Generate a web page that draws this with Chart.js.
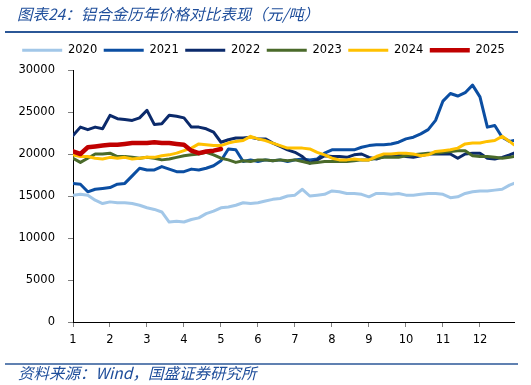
<!DOCTYPE html>
<html>
<head>
<meta charset="utf-8">
<script src="https://cdn.jsdelivr.net/npm/chart.js@4.4.1/dist/chart.umd.min.js"></script>
<style>
    html, body { margin: 0; padding: 0; background: #fff; }
</style>
</head>
<body>
<canvas id="priceChart" width="531" height="385"></canvas>
<script>
// x position of each point, in months (1 = start of Jan)
var months = [1.0, 1.2, 1.4, 1.6, 1.8, 2.0, 2.2, 2.4, 2.6, 2.8,
    3.0, 3.2, 3.4, 3.6, 3.8, 4.0, 4.2, 4.4, 4.6, 4.8,
    5.0, 5.2, 5.4, 5.6, 5.8, 6.0, 6.2, 6.4, 6.6, 6.8,
    7.0, 7.2, 7.4, 7.6, 7.8, 8.0, 8.2, 8.4, 8.6, 8.8,
    9.0, 9.2, 9.4, 9.6, 9.8, 10.0, 10.2, 10.4, 10.6, 10.8,
    11.0, 11.2, 11.4, 11.6, 11.8, 12.0, 12.2, 12.4, 12.6, 12.8, 12.92];

// prices, yuan per tonne
var price2020 = [15100, 15200, 15100, 14500, 14100, 14300, 14200, 14200, 14100, 13900,
    13600, 13400, 13100, 11900, 12000, 11900, 12200, 12400, 12900, 13200,
    13600, 13700, 13900, 14200, 14100, 14200, 14400, 14600, 14700, 15000,
    15100, 15800, 15000, 15100, 15200, 15600, 15500, 15300, 15300, 15200,
    14900, 15300, 15300, 15200, 15300, 15100, 15100, 15200, 15300, 15300,
    15200, 14800, 14900, 15300, 15500, 15600, 15600, 15700, 15800, 16300, 16500];
var price2021 = [16500, 16400, 15500, 15800, 15900, 16000, 16400, 16500, 17400, 18300,
    18100, 18100, 18500, 18200, 17900, 17900, 18200, 18100, 18300, 18600,
    19200, 20600, 20500, 19100, 19300, 19100, 19300, 19200, 19300, 19100,
    19300, 19400, 19300, 19400, 20100, 20500, 20500, 20500, 20500, 20800,
    21000, 21100, 21100, 21200, 21400, 21800, 22000, 22400, 22900, 24000,
    26300, 27200, 26900, 27300, 28200, 26800, 23200, 23400, 22000, 21500, 21600];
var price2022 = [22200, 23200, 22900, 23200, 23000, 24600, 24200, 24100, 24000, 24300,
    25200, 23500, 23600, 24600, 24500, 24300, 23200, 23200, 23000, 22600,
    21400, 21700, 21900, 21900, 22000, 21800, 21800, 21300, 20900, 20500,
    20200, 19700, 18900, 19300, 19800, 19700, 19700, 19600, 19900, 20000,
    19600, 19400, 19700, 19800, 19900, 19700, 19600, 19800, 20000, 20000,
    20000, 20000, 19500, 20000, 20100, 20100, 19500, 19400, 19600, 19900, 20100];
var price2023 = [19500, 19000, 19500, 20000, 20000, 20100, 19700, 19700, 19600, 19500,
    19600, 19500, 19300, 19400, 19600, 19800, 19900, 20000, 20200, 19900,
    19500, 19300, 19000, 19200, 19100, 19300, 19300, 19200, 19300, 19200,
    19300, 19100, 18900, 19000, 19100, 19100, 19100, 19100, 19200, 19300,
    19300, 19500, 19600, 19600, 19600, 19800, 19900, 20000, 20100, 20100,
    20200, 20300, 20400, 20400, 19800, 19700, 19700, 19600, 19500, 19600, 19700];
var price2024 = [19900, 19700, 19700, 19500, 19400, 19600, 19500, 19600, 19400, 19500,
    19600, 19600, 19800, 19900, 20100, 20400, 20700, 21200, 21100, 21000,
    21000, 21300, 21500, 21600, 22100, 21800, 21600, 21300, 21000, 20700,
    20700, 20700, 20600, 20200, 19900, 19500, 19300, 19300, 19400, 19300,
    19300, 19700, 20000, 20000, 20100, 20100, 20000, 19800, 19900, 20300,
    20400, 20500, 20700, 21200, 21300, 21300, 21500, 21600, 22100, 21500, 21100];
var price2025 = [20300, 20000, 20800, 20900, 21000, 21100, 21100, 21200, 21300, 21300,
    21300, 21400, 21300, 21300, 21200, 21100, 20400, 20100, 20300, 20400, 20600];

var yearLabels = ['2020', '2021', '2022', '2023', '2024', '2025'];
var monthTicks = [1, 2, 3, 4, 5, 6, 7, 8, 9, 10, 11, 12];

var titleText = '图表24：铝合金历年价格对比表现（元/吨）';
var sourceText = '资料来源：Wind，国盛证券研究所';

function toPoints(values) {
    return values.map((v, i) => ({ x: months[i], y: v }));
}

function makeLine(label, values, color, width, order) {
    return {
        label: label,
        data: toPoints(values),
        borderColor: color,
        backgroundColor: color,
        borderWidth: width,
        borderCapStyle: 'round',
        borderJoinStyle: 'round',
        pointRadius: 0,
        tension: 0,
        order: order
    };
}

// make the legend box taller so the plot starts lower
var legendSpacer = {
    id: 'legendSpacer',
    beforeInit(chart) {
        var origFit = chart.legend.fit;
        chart.legend.fit = function fit() {
            origFit.bind(chart.legend)();
            this.height = 32;
        };
    }
};

// title, blue rules and source line
var reportFrame = {
    id: 'reportFrame',
    afterDraw(chart) {
        var ctx = chart.ctx;
        ctx.save();
        ctx.fillStyle = '#1F4E9B';
        ctx.textBaseline = 'middle';
        ctx.textAlign = 'left';
        ctx.font = 'italic 15.5px "Noto Sans CJK SC"';
        ctx.fillText(titleText, 17, 14);

        ctx.strokeStyle = '#2B5797';
        ctx.lineWidth = 2;
        ctx.beginPath();
        ctx.moveTo(5, 32);
        ctx.lineTo(518, 32);
        ctx.stroke();

        ctx.lineWidth = 1.5;
        ctx.beginPath();
        ctx.moveTo(5, 364);
        ctx.lineTo(518, 364);
        ctx.stroke();

        ctx.font = 'italic 15.5px "Noto Sans CJK SC"';
        ctx.fillText(sourceText, 18, 373);
        ctx.restore();
    }
};

var tickFont = { family: 'DejaVu Sans', size: 11.5 };

var ctx = document.getElementById('priceChart').getContext('2d');
new Chart(ctx, {
    type: 'line',
    data: {
        datasets: [
            makeLine(yearLabels[0], price2020, '#A2C7E8', 3, 5),
            makeLine(yearLabels[1], price2021, '#0B4EA2', 3, 4),
            makeLine(yearLabels[2], price2022, '#0B2A6B', 3, 3),
            makeLine(yearLabels[3], price2023, '#4A6A2A', 3, 2),
            makeLine(yearLabels[4], price2024, '#FFC000', 3, 1),
            makeLine(yearLabels[5], price2025, '#C00000', 4.5, 0)
        ]
    },
    options: {
        responsive: false,
        animation: false,
        devicePixelRatio: 1,
        layout: {
            padding: { top: 38, left: 13, right: 17, bottom: 33 }
        },
        scales: {
            x: {
                type: 'linear',
                min: 1,
                max: 12.92,
                afterFit: (scale) => { scale.height = 30; },
                afterBuildTicks: (scale) => {
                    scale.ticks = monthTicks.map(m => ({ value: m }));
                },
                ticks: {
                    autoSkip: false,
                    maxRotation: 0,
                    padding: 6,
                    color: '#000',
                    font: tickFont,
                    callback: (value) => String(value)
                },
                grid: {
                    display: true,
                    drawOnChartArea: false,
                    tickLength: 5,
                    tickColor: '#808080'
                },
                border: { color: '#000', width: 1 }
            },
            y: {
                min: 0,
                max: 30000,
                afterFit: (scale) => { scale.width = 60; },
                ticks: {
                    stepSize: 5000,
                    padding: 13,
                    color: '#000',
                    font: tickFont,
                    callback: (value) => String(value)
                },
                grid: {
                    display: true,
                    drawOnChartArea: false,
                    tickLength: 5,
                    tickColor: '#808080'
                },
                border: { color: '#000', width: 1 }
            }
        },
        plugins: {
            legend: {
                position: 'top',
                labels: {
                    usePointStyle: true,
                    pointStyle: 'line',
                    pointStyleWidth: 40,
                    padding: 6.5,
                    color: '#000',
                    font: tickFont,
                    sort: (a, b) => a.datasetIndex - b.datasetIndex
                }
            },
            tooltip: { enabled: false }
        }
    },
    plugins: [legendSpacer, reportFrame]
});
</script>
</body>
</html>
